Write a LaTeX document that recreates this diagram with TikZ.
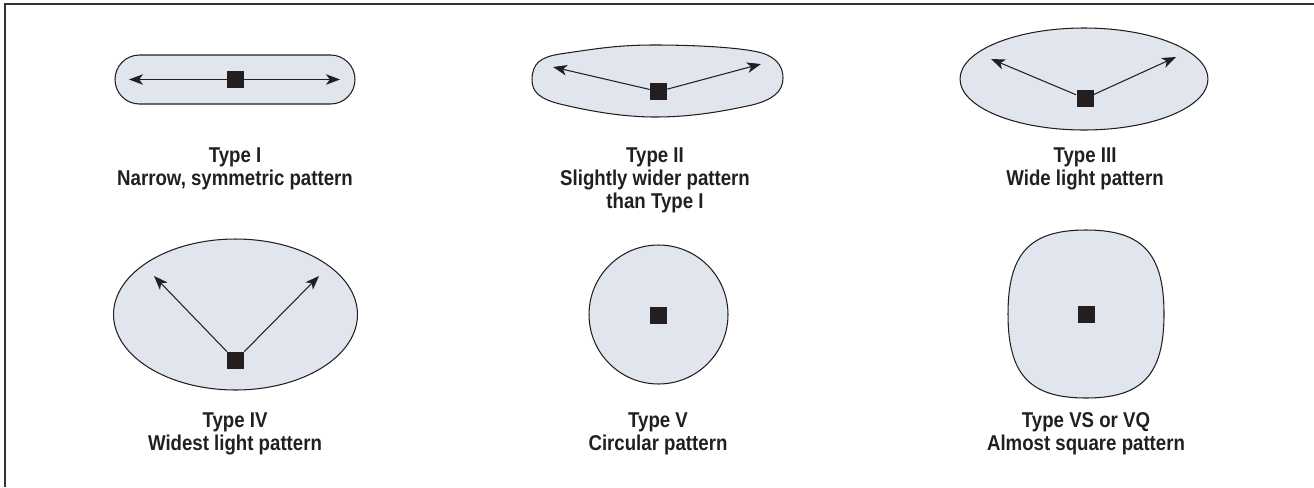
\documentclass[tikz,border=0pt]{standalone}
\usepackage{fontspec}
\setmainfont{Liberation Sans}[FakeStretch=0.87]
\usetikzlibrary{arrows.meta}

\definecolor{lobefill}{RGB}{225,230,238}
\definecolor{inkdark}{RGB}{35,31,32}

\tikzstyle{lobe}=[fill=lobefill, draw=inkdark, line width=0.6pt]
\tikzstyle{lamp}=[rectangle, fill=inkdark, minimum size=0.34cm, inner sep=0pt]
\tikzstyle{beam}=[draw=inkdark, line width=0.6pt, -{Stealth[length=8pt, width=6pt, inset=2.2pt]}]
\tikzstyle{caption}=[align=center, anchor=north, inner sep=0pt, text=inkdark, font=\bfseries\fontsize{12.2}{13.3}\selectfont]

\begin{document}
\begin{tikzpicture}[x=0.02cm, y=-0.02cm]
	\useasboundingbox (0,0) rectangle (1314,487);
	% Frame, open to the right and bottom
	\draw[line width=1.2pt, black!80] (5,487) -- (5,4) -- (1314,4);

	% Type I
	\draw[lobe, rounded corners=0.49cm] (115,55) rectangle (355,104);
	\node[lamp] (lampI) at (235.5,79.5) {};
	\coordinate (tipIl) at (129,79.5);
	\coordinate (tipIr) at (340,79.5);
	\draw[beam] (lampI) -- (tipIl);
	\draw[beam] (lampI) -- (tipIr);
	\node[caption] (capI) at (235,147) {Type I\\Narrow, symmetric pattern};

	% Type II
	\draw[lobe] (532,80) .. controls (532,63) and (541,57) .. (560,54)
		.. controls (600,48) and (620,45) .. (655,45)
		.. controls (700,45) and (745,48) .. (762,53)
		.. controls (778,58) and (783,68) .. (783,78)
		.. controls (783,92) and (772,100) .. (752,105)
		.. controls (720,112) and (690,117) .. (655,117)
		.. controls (620,117) and (585,110) .. (560,104)
		.. controls (540,99) and (532,92) .. cycle;
	\node[lamp] (lampII) at (658.5,91.5) {};
	\coordinate (tipIIl) at (553,67);
	\coordinate (tipIIr) at (761,64);
	\draw[beam] (lampII) -- (tipIIl);
	\draw[beam] (lampII) -- (tipIIr);
	\node[caption] (capII) at (655,147) {Type II\\Slightly wider pattern\\than Type I};

	% Type III
	\draw[lobe] (1084,79) ellipse [x radius=2.48cm, y radius=1.02cm];
	\node[lamp] (lampIII) at (1085,98.5) {};
	\coordinate (tipIIIl) at (991,59);
	\coordinate (tipIIIr) at (1176,57);
	\draw[beam] (lampIII) -- (tipIIIl);
	\draw[beam] (lampIII) -- (tipIIIr);
	\node[caption] (capIII) at (1085,147) {Type III\\Wide light pattern};

	% Type IV
	\draw[lobe] (235.5,314.5) ellipse [x radius=2.44cm, y radius=1.51cm];
	\node[lamp] (lampIV) at (235.5,360.5) {};
	\coordinate (tipIVl) at (154,276);
	\coordinate (tipIVr) at (319,276);
	\draw[beam] (lampIV) -- (tipIVl);
	\draw[beam] (lampIV) -- (tipIVr);
	\node[caption] (capIV) at (235,412) {Type IV\\Widest light pattern};

	% Type V
	\draw[lobe] (658.5,314.5) circle [radius=1.39cm];
	\node[lamp] (lampV) at (658.5,315.5) {};
	\node[caption] (capV) at (658,412) {Type V\\Circular pattern};

	% Type VS or VQ
	\draw[lobe] (1086,230) .. controls (1142,230) and (1164,253) .. (1164,314)
		.. controls (1164,375) and (1142,398) .. (1086,398)
		.. controls (1030,398) and (1008,375) .. (1008,314)
		.. controls (1008,253) and (1030,230) .. cycle;
	\node[lamp] (lampVS) at (1086.5,314.5) {};
	\node[caption] (capVS) at (1086,412) {Type VS or VQ\\Almost square pattern};
\end{tikzpicture}
\end{document}
